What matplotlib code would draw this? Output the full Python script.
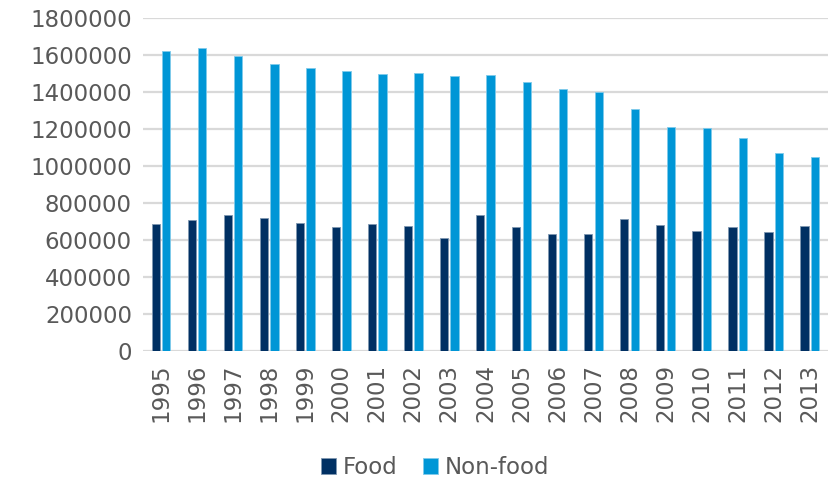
import numpy as np
import matplotlib.pyplot as plt

years = ["1995", "1996", "1997", "1998", "1999", "2000", "2001", "2002", "2003", "2004",
         "2005", "2006", "2007", "2008", "2009", "2010", "2011", "2012", "2013"]
food = [685000, 707000, 734000, 718000, 692000, 671000, 687000, 674000, 612000, 734000,
        673000, 635000, 631000, 716000, 680000, 649000, 669000, 642000, 678000]
non_food = [1624000, 1640000, 1595000, 1550000, 1529000, 1516000, 1498000, 1505000, 1489000, 1495000,
            1453000, 1415000, 1399000, 1309000, 1214000, 1209000, 1153000, 1072000, 1052000]

fig = plt.figure(figsize=(8.29, 4.79), dpi=100)
ax = fig.add_axes([0.1725, 0.267, 0.826, 0.695])

x = np.arange(len(years))
w = 0.23
ax.bar(x - 0.145, food, width=w, color="#003063", edgecolor="#7f97b1", linewidth=0.6, label="Food", zorder=3)
ax.bar(x + 0.145, non_food, width=w, color="#0096D6", edgecolor="#7fcaeb", linewidth=0.6, label="Non-food", zorder=3)

ax.set_xlim(-0.5, len(years) - 0.5)
ax.set_ylim(0, 1800000)
ax.set_yticks(np.arange(0, 1800001, 200000))
ax.set_yticklabels([str(v) for v in range(0, 1800001, 200000)])
ax.set_xticks(x)
ax.set_xticklabels(years, rotation=90)

ax.grid(axis="y", color="#d9d9d9", linewidth=1.6, zorder=0)
for s in ax.spines.values():
    s.set_visible(False)
ax.tick_params(length=0, labelsize=16.5, labelcolor="#595959")
ax.tick_params(axis="y", pad=8)
ax.tick_params(axis="x", pad=9)

fig.legend(loc="center", bbox_to_anchor=(0.525, 0.024), ncol=2, frameon=False,
           fontsize=16.5, labelcolor="#595959", handlelength=0.65, handleheight=0.65,
           handletextpad=0.3, columnspacing=1.1)

fig.savefig("out.png", dpi=100)
